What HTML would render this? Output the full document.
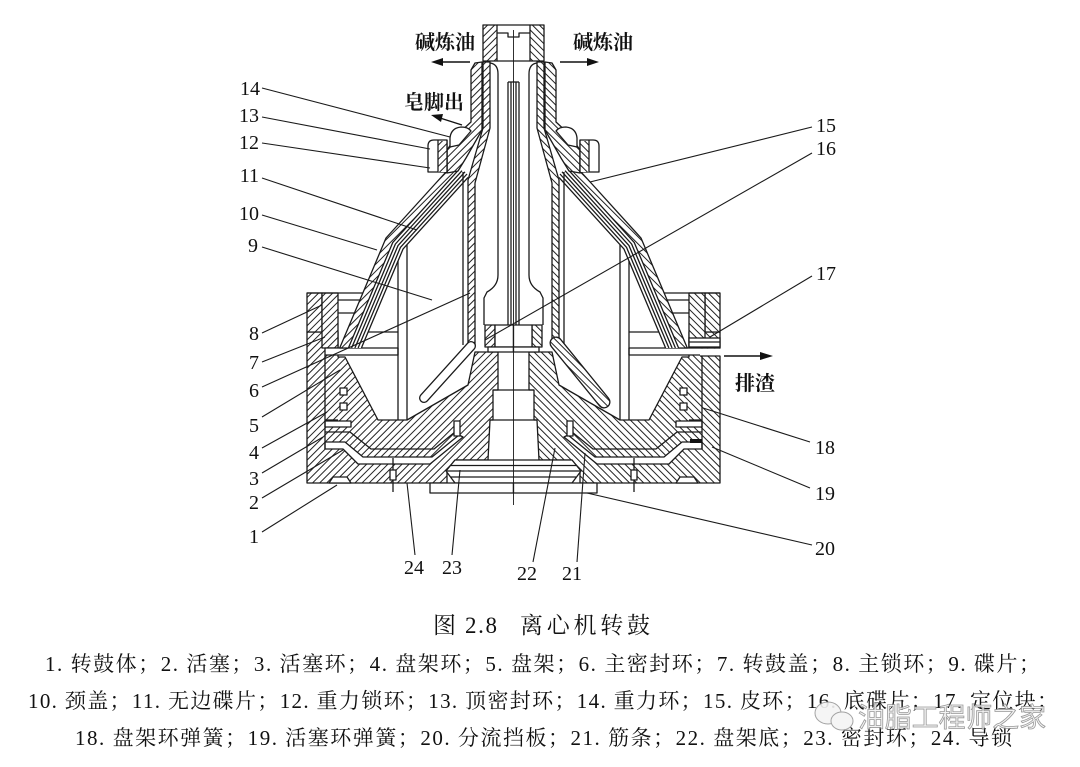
<!DOCTYPE html>
<html><head><meta charset="utf-8">
<style>
html,body{margin:0;padding:0;background:#fff;}
svg{display:block;}
</style></head><body>
<svg width="1080" height="767" viewBox="0 0 1080 767" xmlns="http://www.w3.org/2000/svg" xmlns:xlink="http://www.w3.org/1999/xlink">
<defs>
<pattern id="h" patternUnits="userSpaceOnUse" width="5" height="5" patternTransform="rotate(45)">
<rect width="5" height="5" fill="#fff"/><line x1="2.5" y1="0" x2="2.5" y2="5" stroke="#222" stroke-width="1"/>
</pattern>
<pattern id="h2" patternUnits="userSpaceOnUse" width="5" height="5" patternTransform="rotate(-45)">
<rect width="5" height="5" fill="#fff"/><line x1="2.5" y1="0" x2="2.5" y2="5" stroke="#222" stroke-width="1"/>
</pattern>
<g id="half" stroke="#1a1a1a" stroke-width="1.3" fill="none" stroke-linejoin="round">
 <!-- body + bottom + hub hatched mass -->
 <polygon fill="url(#h)" points="307,332 338,332 338,357 345,357 378,420 407,420 468,385 475,352 498,352 498,390 493,390 493,420 490,420 488,460 455,460 447,470 447,483 307,483"/>
 <rect x="307" y="293" width="15" height="39" fill="url(#h)"/>
 <rect x="322" y="293" width="16" height="55" fill="url(#h)"/>
 <!-- piston channel -->
 <polygon fill="#fff" points="325,442 345,442 363,457 432,457 459,435 463,437 430,464 358,464 343,449 325,449"/>
 <rect x="325" y="421" width="26" height="6" fill="#fff"/>
 <polyline points="325,432 350,432 371,449 434,449 455,432"/>
 <line x1="325" y1="355" x2="325" y2="449"/>
 <line x1="325" y1="420" x2="338" y2="420"/>
 <rect x="340" y="388" width="7" height="7" fill="#fff"/>
 <rect x="340" y="403" width="7" height="7" fill="#fff"/>
 <rect x="454" y="421" width="6" height="15" fill="#fff"/>
 <line x1="393" y1="458" x2="393" y2="492"/>
 <rect x="390" y="470" width="6" height="10" fill="#fff"/>
 <polygon fill="#fff" points="329,483 333,477 347,477 351,483"/>
 <!-- hub top -->
 <rect x="485" y="325" width="10" height="22" fill="url(#h)"/>
 <rect x="495" y="325" width="18.5" height="22" fill="#fff"/>
 <rect x="488" y="347" width="25.5" height="5" fill="#fff"/>
 <line x1="493" y1="390" x2="513.5" y2="390"/>
 <line x1="490" y1="420" x2="513.5" y2="420"/>
 <!-- dish + baffle -->
 <path d="M513.5,460 L455,460 L446,471 L455,483 L513.5,483" fill="#fff"/>
 <line x1="451" y1="465.5" x2="513.5" y2="465.5"/>
 <line x1="447" y1="471" x2="513.5" y2="471"/>
 <line x1="451" y1="477" x2="513.5" y2="477"/>
 <rect x="430" y="483" width="83.5" height="10" fill="#fff"/>
 <!-- main seal bar -->
 <rect x="325" y="348" width="73" height="7" fill="#fff"/>
 <!-- cone -->
 <polygon fill="#fff" stroke="none" points="445,173 386,238 339.7,348 361.4,348 403.1,248.9 468,177.4"/>
 <polygon fill="url(#h)" points="445,173 386,238 339.7,348 348.4,348 392.8,242.4 458,170.6"/>
 <polyline points="462,170.7 395.4,244 351.6,348"/>
 <polyline points="465,171.8 398,245.6 354.9,348"/>
 <polyline points="467,174 400.5,247.3 358.1,348"/>
 <polyline points="468,177.4 403.1,248.9 361.4,348"/>
 <!-- housing top lines -->
 <line x1="307" y1="293" x2="363" y2="293"/>
 <line x1="338" y1="300" x2="360" y2="300"/>
 <line x1="338" y1="313" x2="355" y2="313"/>
 <line x1="368" y1="332" x2="398" y2="332"/>
 <!-- disc rib -->
 <line x1="398" y1="261" x2="398" y2="420"/>
 <line x1="407" y1="245" x2="407" y2="420"/>
 <!-- tube -->
 <polygon fill="url(#h)" points="483,62 490,62 490,128 475,183 475,345 468,345 468,180 483,128"/>
 <line x1="463" y1="172" x2="463" y2="345"/>
 <!-- neck outer wall -->
 <polygon fill="url(#h)" points="482,62 475,63 471,70 471,122 458,134 447,150 447,173 458,171 466,158 482,130"/>
 <path d="M450,147 L450,138 Q451,128 461,127 Q468,127 471,131 L459,145 Z" fill="#fff"/>
 <path d="M428,172 L428,146 Q428,140 434,140 L447,140 L447,172 Z" fill="#fff"/>
 <rect x="438" y="141" width="9" height="31" fill="url(#h)" stroke="none"/>
 <line x1="438" y1="140" x2="438" y2="172"/>
 <line x1="447" y1="140" x2="447" y2="172"/>
 <!-- distributor + rod -->
 <path d="M490,63 Q498,64 498,74 L498,275 Q498,286 487,292 L484,298 L484,325"/>
 <line x1="508" y1="82" x2="508" y2="325"/>
 <line x1="511" y1="82" x2="511" y2="325"/>
 <line x1="508" y1="82" x2="513.5" y2="82"/>
 <!-- top cap -->
 <rect x="483" y="25" width="14" height="36" fill="url(#h)"/>
 <line x1="497" y1="25" x2="513.5" y2="25"/>
 <line x1="497" y1="61" x2="513.5" y2="61"/>
 <polyline points="497,33 508,33 508,37 513.5,37"/>
</g>
</defs>
<rect width="1080" height="767" fill="#fff"/>
<use xlink:href="#half" href="#half"/>
<use xlink:href="#half" href="#half" transform="matrix(-1 0 0 1 1027 0)"/>

<g stroke="#1a1a1a" stroke-width="1.3" fill="none">
 <!-- left disc-holder band (outlined) -->
 <path d="M471,346 L424,398" stroke-width="10" stroke-linecap="round"/>
 <path d="M471,346 L424,398" stroke="#fff" stroke-width="7.4" stroke-linecap="round"/>
 <!-- right disc-holder band (hatched, thicker) -->
 <path d="M556,343 L604,402" stroke-width="13" stroke-linecap="round"/>
 <path d="M556,343 L604,402" stroke="url(#h2)" stroke-width="10.4" stroke-linecap="round"/>
 <!-- right-only: outlet and locator -->
 <rect x="700" y="348.6" width="21.5" height="7" fill="#fff" stroke="none"/>
 <line x1="700" y1="348" x2="720" y2="348"/>
 <line x1="700" y1="356" x2="720" y2="356"/>
 <rect x="689" y="338" width="31" height="9" fill="#fff"/>
 <line x1="689" y1="342" x2="720" y2="342"/>
 <rect x="690" y="439" width="12" height="4" fill="#111" stroke="none"/>
 <!-- axis -->
 <line x1="513.5" y1="30" x2="513.5" y2="505" stroke-width="0.9"/>
</g>

<!-- arrows -->
<g stroke="#111" stroke-width="1.4" fill="#111">
 <line x1="470" y1="62" x2="440" y2="62"/>
 <polygon points="431,62 443,58 443,66" stroke="none"/>
 <line x1="560" y1="62" x2="590" y2="62"/>
 <polygon points="599,62 587,58 587,66" stroke="none"/>
 <line x1="462" y1="125" x2="440" y2="118"/>
 <polygon points="431,115 443,114 441,122" stroke="none"/>
 <line x1="724" y1="356" x2="762" y2="356"/>
 <polygon points="773,356 760,352 760,360" stroke="none"/>
</g>

<!-- leader lines -->
<g stroke="#1a1a1a" stroke-width="1.1">
 <line x1="262" y1="88" x2="450" y2="137"/>
 <line x1="262" y1="117" x2="430" y2="149"/>
 <line x1="262" y1="143" x2="430" y2="168"/>
 <line x1="262" y1="178" x2="417" y2="230"/>
 <line x1="262" y1="215" x2="377" y2="250"/>
 <line x1="262" y1="247" x2="432" y2="300"/>
 <line x1="262" y1="333" x2="322" y2="305"/>
 <line x1="262" y1="362" x2="325" y2="337"/>
 <line x1="262" y1="387" x2="470" y2="293"/>
 <line x1="262" y1="417" x2="340" y2="370"/>
 <line x1="262" y1="448" x2="327" y2="412"/>
 <line x1="262" y1="473" x2="323" y2="437"/>
 <line x1="262" y1="498" x2="343" y2="450"/>
 <line x1="262" y1="532" x2="337" y2="485"/>
 <line x1="415" y1="555" x2="407" y2="483"/>
 <line x1="452" y1="555" x2="460" y2="470"/>
 <line x1="533" y1="562" x2="555" y2="448"/>
 <line x1="577" y1="562" x2="585" y2="453"/>
 <line x1="812" y1="545" x2="587" y2="493"/>
 <line x1="810" y1="488" x2="712" y2="447"/>
 <line x1="810" y1="442" x2="703" y2="408"/>
 <line x1="812" y1="276" x2="710" y2="337"/>
 <line x1="812" y1="153" x2="485" y2="340"/>
 <line x1="812" y1="127" x2="590" y2="182"/>
</g>

<!-- part numbers -->
<g font-family="'Liberation Serif', serif" font-size="20" fill="#111" text-anchor="end">
 <text x="260" y="95">14</text>
 <text x="259" y="122">13</text>
 <text x="259" y="149">12</text>
 <text x="259" y="182">11</text>
 <text x="259" y="220">10</text>
 <text x="258" y="252">9</text>
 <text x="259" y="340">8</text>
 <text x="259" y="369">7</text>
 <text x="259" y="397">6</text>
 <text x="259" y="432">5</text>
 <text x="259" y="459">4</text>
 <text x="259" y="485">3</text>
 <text x="259" y="509">2</text>
 <text x="259" y="543">1</text>
</g>
<g font-family="'Liberation Serif', serif" font-size="20" fill="#111" text-anchor="start">
 <text x="816" y="132">15</text>
 <text x="816" y="155">16</text>
 <text x="816" y="280">17</text>
 <text x="815" y="454">18</text>
 <text x="815" y="500">19</text>
 <text x="815" y="555">20</text>
</g>
<g font-family="'Liberation Serif', serif" font-size="20" fill="#111" text-anchor="middle">
 <text x="414" y="574">24</text>
 <text x="452" y="574">23</text>
 <text x="527" y="580">22</text>
 <text x="572" y="580">21</text>
</g>

<!-- flow labels -->
<g font-family="'Liberation Serif','Noto Serif CJK SC',serif" font-size="20" font-weight="bold" fill="#111">
 <text x="415" y="49">碱炼油</text>
 <text x="573" y="49">碱炼油</text>
 <text x="404" y="109">皂脚出</text>
 <text x="735" y="390">排渣</text>
</g>

<!-- caption -->
<g font-family="'Liberation Serif','Noto Serif CJK SC',serif" fill="#111">
 <text x="433" y="633" font-size="23" textLength="64" lengthAdjust="spacing">图 2.8</text>
 <text x="520" y="633" font-size="23" textLength="130" lengthAdjust="spacing">离心机转鼓</text>
 <text x="45" y="671" font-size="21" textLength="995" lengthAdjust="spacing">1. 转鼓体；2. 活塞；3. 活塞环；4. 盘架环；5. 盘架；6. 主密封环；7. 转鼓盖；8. 主锁环；9. 碟片；</text>
 <text x="28" y="708" font-size="21" textLength="1030" lengthAdjust="spacing">10. 颈盖；11. 无边碟片；12. 重力锁环；13. 顶密封环；14. 重力环；15. 皮环；16. 底碟片；17. 定位块；</text>
 <text x="75" y="745" font-size="21" textLength="937" lengthAdjust="spacing">18. 盘架环弹簧；19. 活塞环弹簧；20. 分流挡板；21. 筋条；22. 盘架底；23. 密封环；24. 导锁</text>
</g>

<!-- watermark -->
<g opacity="0.9">
 <ellipse cx="828" cy="713" rx="13" ry="11" fill="#f4f4f4" stroke="#9a9a9a" stroke-width="1"/>
 <ellipse cx="842" cy="721" rx="11" ry="9" fill="#f4f4f4" stroke="#9a9a9a" stroke-width="1"/>
 <text x="858" y="727" font-family="'Noto Sans CJK SC',sans-serif" font-size="27" fill="#f2f2f2" stroke="#8e8e8e" stroke-width="0.8" textLength="188" lengthAdjust="spacingAndGlyphs">油脂工程师之家</text>
</g>
</svg>
</body></html>
